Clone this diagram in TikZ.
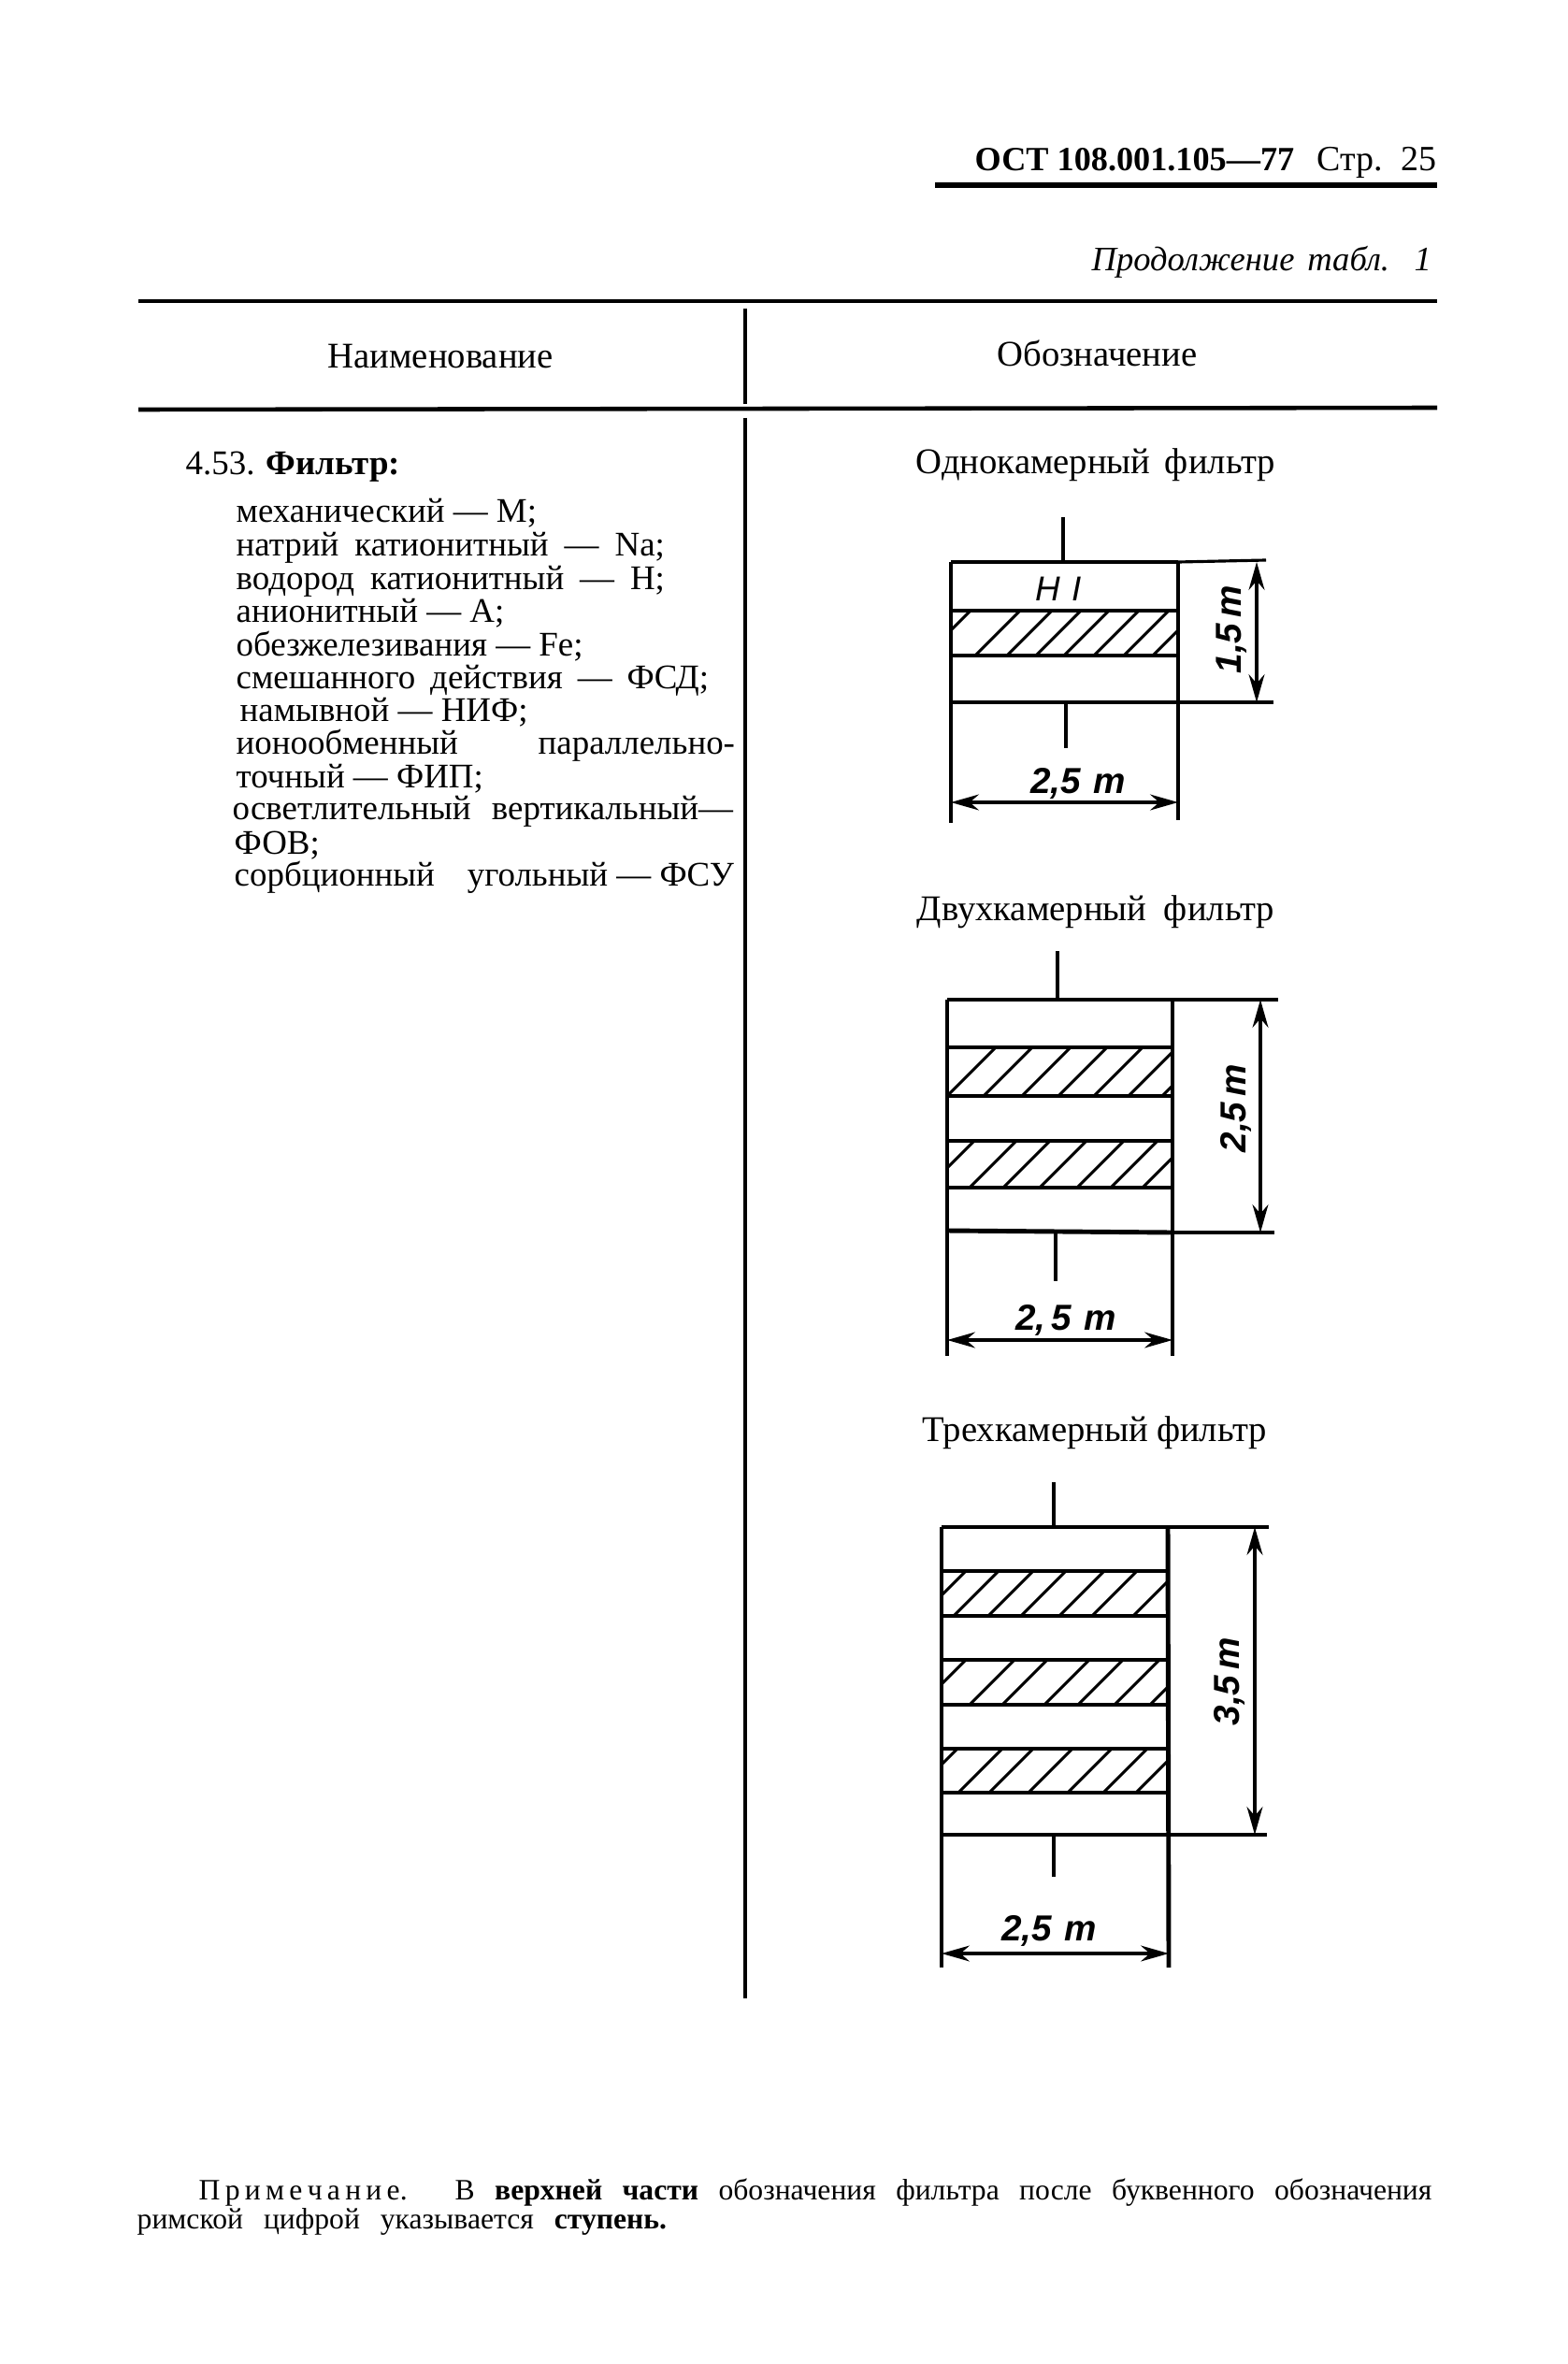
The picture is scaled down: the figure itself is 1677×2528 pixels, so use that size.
\documentclass[tikz,border=0pt]{standalone}
\usepackage{fontspec}
\setmainfont{Liberation Serif}
\newfontfamily\handfont{Liberation Sans}
\usetikzlibrary{arrows.meta}

\newcommand{\fitline}[2]{\makebox[#1][s]{#2}}
\newcommand{\hatchband}[5]{%
  \begin{scope}
    \clip (#3,#1) rectangle (#4,#2);
    \foreach \hx in {#5} \draw[hatchline] (\hx,#2) -- ++(70,-70);
  \end{scope}}

\tikzset{
  bodytext/.style={anchor=base west,inner sep=0pt,font=\fontsize{10.5}{12}\selectfont},
  smalltext/.style={anchor=base west,inner sep=0pt,font=\fontsize{9}{10}\selectfont},
  handtext/.style={inner sep=0pt,font=\fontsize{11}{13}\selectfont\handfont\bfseries\itshape},
  tablerule/.style={line width=1.3pt},
  boxline/.style={line width=1.4pt},
  thinline/.style={line width=0.9pt},
  hatchline/.style={line width=0.85pt},
  dimline/.style={line width=0.9pt,{Stealth[length=8.5pt,width=4.8pt]}-{Stealth[length=8.5pt,width=4.8pt]}}
}

\begin{document}
\begin{tikzpicture}[x=0.01cm,y=-0.01cm]
\useasboundingbox (0,0) rectangle (1677,2528);

% page head
\node[bodytext,font=\fontsize{10.3}{12}\selectfont\bfseries] (docno) at (1042,183) {ОСТ 108.001.105—77};
\node[bodytext,font=\fontsize{10.8}{12}\selectfont] (pageno) at (1408,183) {\fitline{1.28cm}{Стр. 25}};
\draw[line width=1.8pt] (1000,198) -- (1537,198);
\node[bodytext,font=\fontsize{10.4}{12}\selectfont\itshape] (contd) at (1167,290) {\fitline{3.63cm}{Продолжение табл. 1}};

% table frame
\coordinate (headtop) at (797,330);
\coordinate (headbot) at (797,432);
\coordinate (bodytop) at (797,447);
\coordinate (bodybot) at (797,2137);
\draw[tablerule] (148,322) -- (1537,322);
\draw[tablerule] (148,438) -- (1537,436);
\draw[tablerule] (headtop) -- (headbot);
\draw[line width=1.4pt] (bodytop) -- (bodybot);
\node[bodytext,font=\fontsize{11}{13}\selectfont] (namehead) at (350,394) {Наименование};
\node[bodytext,font=\fontsize{11}{13}\selectfont] (signhead) at (1066,392) {Обозначение};

% left column
\node[bodytext] (item) at (198,508) {4.53. \textbf{Фильтр:}};
\node[bodytext] (it1) at (252,559) {механический — М;};
\node[bodytext] (it2) at (252,594) {\fitline{4.58cm}{натрий катионитный — Na;}};
\node[bodytext] (it3) at (252,630) {\fitline{4.58cm}{водород катионитный — Н;}};
\node[bodytext] (it4) at (252,665) {анионитный — А;};
\node[bodytext] (it5) at (252,701) {обезжелезивания — Fe;};
\node[bodytext] (it6) at (252,736) {\fitline{5.05cm}{смешанного действия — ФСД;}};
\node[bodytext] (it7) at (256,771) {намывной — НИФ;};
\node[bodytext] (it8) at (252,806) {\fitline{5.33cm}{ионообменный \hfill параллельно-}};
\node[bodytext] (it9) at (252,842) {точный — ФИП;};
\node[bodytext] (it10) at (248,876) {\fitline{5.35cm}{осветлительный вертикальный—}};
\node[bodytext] (it11) at (250,913) {ФОВ;};
\node[bodytext] (it12) at (250,947) {\fitline{5.34cm}{сорбционный \hfill угольный — ФСУ}};

% one chamber
\node[bodytext,font=\fontsize{11}{13}\selectfont] (onetitle) at (979,507) {\fitline{3.84cm}{Однокамерный фильтр}};
\coordinate (onetl) at (1017,601);
\coordinate (onetr) at (1260,601);
\coordinate (onebl) at (1017,751);
\coordinate (onebr) at (1260,751);
\hatchband{653}{701}{1017}{1260}{990,1043,1077,1108,1138,1170,1202,1233}
\draw[boxline] (1137,553) -- (1137,601);
\draw[boxline] (onetl) -- (onetr);
\draw[boxline] (1017,653) -- (1260,653);
\draw[boxline] (1017,701) -- (1260,701);
\draw[boxline] (onebl) -- (onebr);
\draw[boxline] (1140,751) -- (1140,800);
\draw[boxline] (onetl) -- (1017,880);
\draw[boxline] (onetr) -- (1260,877);
\draw[thinline] (onetr) -- (1354,599);
\draw[thinline] (onebr) -- (1362,751);
\coordinate (onedt) at (1344,601);
\coordinate (onedb) at (1344,751);
\coordinate (onedl) at (1017,858);
\coordinate (onedr) at (1260,858);
\draw[dimline] (onedt) -- (onedb);
\draw[dimline] (onedl) -- (onedr);
\node[handtext,font=\fontsize{10.5}{12}\selectfont\handfont\itshape] (onemark) at (1132,630) {H\,\,I};
\node[handtext] (onew) at (1153,838) {2,5\,\,m};
\node[handtext,rotate=90] (oneh) at (1317,673) {1,5\,m};

% two chambers
\node[bodytext,font=\fontsize{11}{13}\selectfont] (twotitle) at (980,984) {\fitline{3.82cm}{Двухкамерный фильтр}};
\coordinate (twotl) at (1013,1069);
\coordinate (twotr) at (1254,1069);
\coordinate (twobl) at (1013,1316);
\coordinate (twobr) at (1254,1318);
\hatchband{1120}{1172}{1013}{1254}{1013,1052,1093,1132,1170,1207,1243}
\hatchband{1220}{1270}{1013}{1254}{992,1037,1073,1112,1152,1188,1222}
\draw[boxline] (1131,1017) -- (1131,1069);
\draw[boxline] (twotl) -- (twotr);
\foreach \ly in {1120,1172,1220,1270} \draw[boxline] (1013,\ly) -- (1254,\ly);
\draw[boxline] (twobl) -- (twobr);
\draw[boxline] (1129,1317) -- (1129,1370);
\draw[boxline] (twotl) -- (1013,1450);
\draw[boxline] (twotr) -- (1254,1450);
\draw[thinline] (twotr) -- (1367,1069);
\draw[thinline] (twobr) -- (1363,1318);
\coordinate (twodt) at (1348,1069);
\coordinate (twodb) at (1348,1318);
\coordinate (twodl) at (1013,1433);
\coordinate (twodr) at (1254,1433);
\draw[dimline] (twodt) -- (twodb);
\draw[dimline] (twodl) -- (twodr);
\node[handtext] (twow) at (1140,1412) {2,\,5\,\,m};
\node[handtext,rotate=90] (twoh) at (1322,1185) {2,5\,m};

% three chambers
\node[bodytext,font=\fontsize{11}{13}\selectfont] (threetitle) at (986,1541) {\fitline{3.68cm}{Трехкамерный фильтр}};
\coordinate (thrtl) at (1007,1633);
\coordinate (thrtr) at (1249,1633);
\coordinate (thrbl) at (1007,1962);
\coordinate (thrbr) at (1250,1962);
\hatchband{1680}{1728}{1007}{1249}{985,1020,1057,1092,1133,1168,1212}
\hatchband{1775}{1823}{1007}{1249}{985,1037,1072,1117,1153,1192,1230}
\hatchband{1870}{1917}{1007}{1249}{977,1025,1058,1100,1142,1180,1215}
\draw[boxline] (1127,1585) -- (1127,1633);
\draw[boxline] (thrtl) -- (thrtr);
\foreach \ly in {1680,1728,1775,1823,1870,1917} \draw[boxline] (1007,\ly) -- (1249,\ly);
\draw[boxline] (thrbl) -- (thrbr);
\draw[boxline] (1127,1962) -- (1127,2007);
\draw[boxline] (thrtl) -- (1007,2104);
\draw[boxline] (thrtr) -- (1250,2104);
\draw[thinline] (thrtr) -- (1357,1633);
\draw[thinline] (thrbr) -- (1355,1962);
\coordinate (thrdt) at (1342,1633);
\coordinate (thrdb) at (1342,1962);
\coordinate (thrdl) at (1007,2089);
\coordinate (thrdr) at (1250,2089);
\draw[dimline] (thrdt) -- (thrdb);
\draw[dimline] (thrdl) -- (thrdr);
\node[handtext] (thrw) at (1122,2065) {2,5\,\,m};
\node[handtext,rotate=90] (thrh) at (1315,1798) {3,5\,m};

% note
\node[smalltext] (note) at (212,2352) {\fitline{13.18cm}{П\,р\,и\,м\,е\,ч\,а\,н\,и\,е. В \textbf{верхней части} обозначения фильтра после буквенного обозначения}};
\node[smalltext] (notetwo) at (146,2383) {\fitline{5.66cm}{римской цифрой указывается \textbf{ступень.}}};
\end{tikzpicture}
\end{document}
